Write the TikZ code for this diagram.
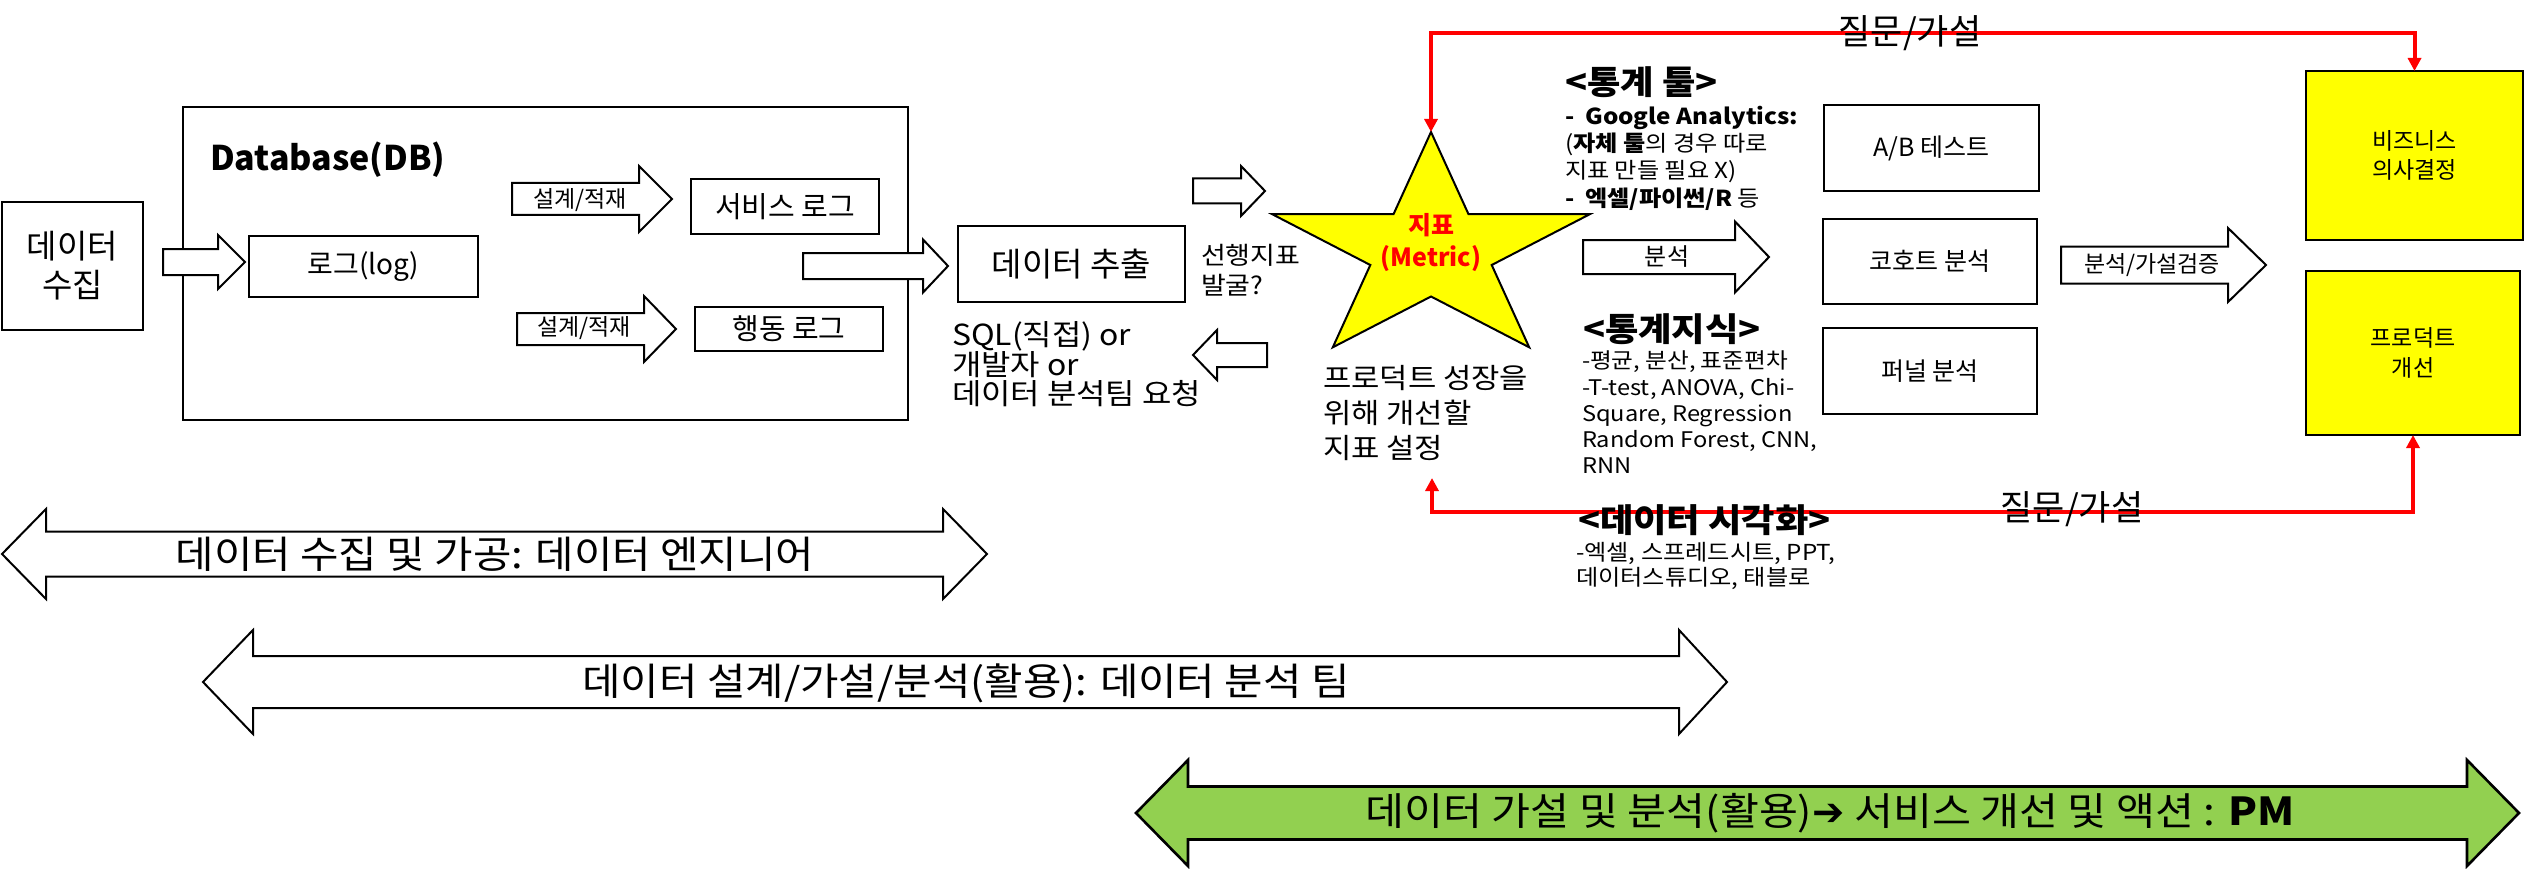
\documentclass[tikz,border=0pt]{standalone}
\usepackage{fontspec}
\setmainfont{Noto Sans CJK KR}
\newfontfamily\wfont{Noto Sans CJK KR}[FakeStretch=1.1]
\newfontfamily\symfont{DejaVu Sans}
\usetikzlibrary{arrows.meta}
\definecolor{ppyellow}{HTML}{FFFF00}
\definecolor{ppgreen}{HTML}{92D050}
\definecolor{ppred}{HTML}{FF0000}
\newcommand{\fsz}[2]{\fontsize{#1pt}{#2pt}\selectfont}
% right-pointing block arrow: x1, xbase, xtip, cy, shaft half, head half, style
\newcommand{\blkR}[7]{\draw[#7] (#1,#4-#5) -- (#2,#4-#5) -- (#2,#4-#6) -- (#3,#4) -- (#2,#4+#6) -- (#2,#4+#5) -- (#1,#4+#5) -- cycle;}
% left-pointing block arrow: xtip, xbase, x2, cy, shaft half, head half
\newcommand{\blkL}[6]{\draw[blk] (#1,#4) -- (#2,#4-#6) -- (#2,#4-#5) -- (#3,#4-#5) -- (#3,#4+#5) -- (#2,#4+#5) -- (#2,#4+#6) -- cycle;}
% double block arrow: xl, xlb, xrb, xr, cy, shaft half, head half, style
\newcommand{\blkD}[8]{\draw[#8] (#1,#5) -- (#2,#5-#7) -- (#2,#5-#6) -- (#3,#5-#6) -- (#3,#5-#7) -- (#4,#5) -- (#3,#5+#7) -- (#3,#5+#6) -- (#2,#5+#6) -- (#2,#5+#7) -- cycle;}
\begin{document}
\begin{tikzpicture}[x=1pt,y=-1pt,
  box/.style={draw, line width=2.6pt, inner sep=0pt, outer sep=0pt, align=center},
  ybox/.style={box, fill=ppyellow},
  blk/.style={draw, line width=2pt, fill=white, line join=miter},
  gblk/.style={draw, line width=2.6pt, fill=ppgreen, line join=miter},
  redconn/.style={draw=ppred, line width=4pt, {Triangle[width=13pt,length=13pt]}-{Triangle[width=13pt,length=13pt]}},
  txt/.style={inner sep=0pt, outer sep=0pt},
  ltxt/.style={txt, anchor=west, align=left}]
\useasboundingbox (0,0) rectangle (2524,869);
\fill[white] (0,0) rectangle (2524,869);

% ---------- left part ----------
\node[box, minimum width=141pt, minimum height=128pt, font=\fsz{33}{39}] (collect) at (72.5,266) {데이터\\수집};
\node[box, minimum width=725pt, minimum height=313pt] (db) at (545.5,263.5) {};
\node[ltxt, font=\bfseries\fsz{34}{40}] (dbtitle) at (210,160) {Database(DB)};
\blkR{163}{218}{245}{262}{13}{27}{blk}
\node[box, minimum width=229pt, minimum height=61pt, font=\fsz{28}{34}] (log) at (363.5,266.5) {로그(log)};

\blkR{512}{639}{672}{199}{16}{33}{blk}
\node[txt, font=\fsz{23}{28}] (design1) at (580,200) {설계/적재};
\node[box, minimum width=188pt, minimum height=55pt, font=\fsz{29}{34}] (svc) at (785,206.5) {서비스 로그};

\blkR{517}{644}{676}{329}{16}{33}{blk}
\node[txt, font=\fsz{23}{28}] (design2) at (584,328) {설계/적재};
\node[box, minimum width=188pt, minimum height=44pt, font=\fsz{29}{34}] (act) at (789,329) {행동 로그};

\blkR{803}{923}{948}{266}{13}{26.5}{blk}
\node[box, minimum width=227pt, minimum height=76pt, font=\fsz{33}{40}] (extract) at (1071.5,264) {데이터 추출};
\node[ltxt, font=\wfont\fsz{29}{29}] (sql) at (952,364) {SQL(직접) or\\개발자 or\\데이터 분석팀 요청};

% ---------- star ----------
\blkR{1193}{1241}{1265}{191}{12.5}{25}{blk}
\node[ltxt, font=\wfont\fsz{24.5}{30}] (lead) at (1201,270) {선행지표\\발굴?};
\blkL{1193}{1217}{1267}{355}{12}{25}
\draw[line width=2pt, fill=ppyellow, line join=miter] (1431,132) -- (1393.5,214.2) -- (1272.2,214.2) -- (1370.3,265.0) -- (1332.8,347.3) -- (1431,296.5) -- (1529.2,347.3) -- (1491.7,265.0) -- (1589.8,214.2) -- (1468.5,214.2) -- cycle;
\coordinate (startop) at (1431,132);
\node[txt, align=center, text=ppred, font=\bfseries\fsz{25}{32}] (metric) at (1431,243) {지표\\(Metric)};
\node[ltxt, font=\wfont\fsz{28}{35}] (goal) at (1323,413) {프로덕트 성장을\\위해 개선할\\지표 설정};

% ---------- tools ----------
\node[ltxt, font=\wfont\bfseries\fsz{33}{38}] (toolhead) at (1565,82) {<통계 툴>};
\node[ltxt, font=\wfont\fsz{22}{27.3}] (tools) at (1565,158) {\textbf{-\ \ Google Analytics:}\\(\textbf{자체 툴}의 경우 따로\\지표 만들 필요 X)\\\textbf{-\ \ 엑셀/파이썬/R} 등};
\blkR{1583}{1735}{1769}{257}{17}{35.5}{blk}
\node[txt, font=\fsz{24}{29}] (anal) at (1667,257) {분석};
\node[ltxt, font=\wfont\bfseries\fsz{33}{38}] (stathead) at (1583,329) {<통계지식>};
\node[ltxt, font=\wfont\fsz{21.5}{26.25}] (stats) at (1582,412.5) {-평균, 분산, 표준편차\\-T-test, ANOVA, Chi-\\Square, Regression\\Random Forest, CNN,\\RNN};
\node[ltxt, font=\wfont\fsz{22}{25}] (vis) at (1576,565.5) {-엑셀, 스프레드시트, PPT,\\데이터스튜디오, 태블로};

\node[box, minimum width=215pt, minimum height=86pt, font=\fsz{25}{30}] (ab) at (1931.5,148) {A/B 테스트};
\node[box, minimum width=214pt, minimum height=85pt, font=\fsz{25}{30}] (cohort) at (1930,261.5) {코호트 분석};
\node[box, minimum width=214pt, minimum height=86pt, font=\fsz{25}{30}] (funnel) at (1930,371) {퍼널 분석};

\blkR{2061}{2228}{2266}{265}{18.5}{37}{blk}
\node[txt, font=\fsz{23}{28}] (verify) at (2152,265) {분석/가설검증};

\node[ybox, minimum width=217pt, minimum height=169pt, font=\fsz{23}{29}] (biz) at (2414.5,155.5) {비즈니스\\의사결정};
\node[ybox, minimum width=214pt, minimum height=164pt, font=\fsz{23}{30}] (prod) at (2413,353) {프로덕트\\개선};

% ---------- red feedback connectors ----------
\coordinate (topline) at (1431,33);
\draw[redconn] (startop) -- (topline) -| (biz.north);
\node[txt, font=\fsz{35}{40}] (q1) at (1910,33) {질문/가설};
\coordinate (bottip) at (1432,478);
\coordinate (botline) at (1432,512);
\draw[redconn] (bottip) -- (botline) -| (prod.south);
\node[txt, font=\fsz{35}{40}] (q2) at (2072,509) {질문/가설};
\node[ltxt, font=\wfont\bfseries\fsz{33}{38}] (vishead) at (1578,520) {<데이터 시각화>};

% ---------- role arrows ----------
\blkD{2}{46}{943}{987}{554}{22.5}{45}{blk}
\node[txt, font=\wfont\fsz{38}{42}] (role1) at (495,554) {데이터 수집 및 가공: 데이터 엔지니어};
\blkD{203}{253}{1679}{1727}{682}{26}{52}{blk}
\node[txt, font=\wfont\fsz{38}{42}] (role2) at (966,683) {데이터 설계/가설/분석(활용): 데이터 분석 팀};
\blkD{1136}{1188}{2467}{2519}{813}{26.5}{53}{gblk}
\node[txt, font=\wfont\fsz{38.5}{42}] (role3) at (1830,813) {데이터 가설 및 분석(활용){\symfont ➔} 서비스 개선 및 액션 : \textbf{PM}};
\end{tikzpicture}
\end{document}
